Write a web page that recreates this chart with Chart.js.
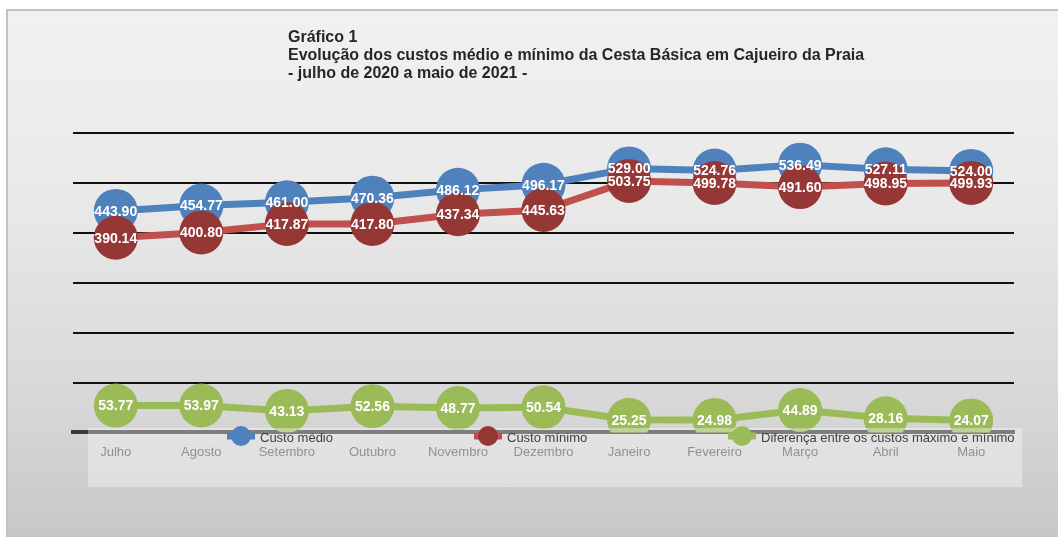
<!DOCTYPE html>
<html>
<head>
<meta charset="utf-8">
<script src="https://cdn.jsdelivr.net/npm/chart.js@4/dist/chart.umd.min.js"></script>
<style>
  html, body { margin: 0; padding: 0; background: #fff; }
  body { width: 1058px; height: 537px; position: relative; overflow: hidden; }
  .painel {
    position: absolute; left: 6px; top: 9px; width: 1060px; height: 540px;
    border-top: 2px solid #c2c2c2; border-left: 2px solid #c2c2c2;
    background: linear-gradient(to bottom, #f1f1f1 0%, #e9e9e9 35%, #d6d6d6 75%, #c6c6c6 100%);
  }
  .grafico { position: absolute; left: 0; top: 0; width: 1058px; height: 537px; }
</style>
</head>
<body>
<div class="painel"></div>
<div class="grafico"><canvas id="cesta"></canvas></div>
<script>
// --- dados ---
const meses = ['Julho', 'Agosto', 'Setembro', 'Outubro', 'Novembro', 'Dezembro',
               'Janeiro', 'Fevereiro', 'Março', 'Abril', 'Maio'];
const custoMedio  = [443.90, 454.77, 461.00, 470.36, 486.12, 496.17, 529.00, 524.76, 536.49, 527.11, 524.00];
const custoMinimo = [390.14, 400.80, 417.87, 417.80, 437.34, 445.63, 503.75, 499.78, 491.60, 498.95, 499.93];
const diferenca   = [53.77, 53.97, 43.13, 52.56, 48.77, 50.54, 25.25, 24.98, 44.89, 28.16, 24.07];
const nomesSeries = ['Custo médio', 'Custo mínimo', 'Diferença entre os custos máximo e mínimo'];
const tituloLinhas = ['Gráfico 1',
  'Evolução dos custos médio e mínimo da Cesta Básica em Cajueiro da Praia',
  '- julho de 2020 a maio de 2021 -'];

// cores (paleta Office)
const cor = {
  azul: '#4f81bd',
  vermelhoLinha: '#c0504d',
  vermelhoPonto: '#953735',
  verde: '#9bbb59'
};

// plugin: caixa translúcida da legenda, rótulos de dados, legenda e título
const extras = {
  id: 'extras',
  afterDatasetsDraw(chart) {
    const ctx = chart.ctx;
    ctx.save();

    // caixa da legenda (translúcida, por cima da série verde)
    ctx.fillStyle = 'rgba(255,255,255,0.35)';
    ctx.fillRect(88, 428, 934, 59);

    // rótulos de dados
    ctx.font = 'bold 14px "Liberation Sans", Arial, sans-serif';
    ctx.fillStyle = '#fff';
    ctx.textAlign = 'center';
    ctx.textBaseline = 'middle';
    chart.data.datasets.forEach((ds, i) => {
      chart.getDatasetMeta(i).data.forEach((pt, j) => {
        ctx.fillText(ds.data[j].toFixed(2), pt.x, pt.y + 1);
      });
    });

    // legenda
    const itens = [
      { x: 241, linha: cor.azul, ponto: cor.azul, texto: nomesSeries[0] },
      { x: 488, linha: cor.vermelhoLinha, ponto: cor.vermelhoPonto, texto: nomesSeries[1] },
      { x: 742, linha: cor.verde, ponto: cor.verde, texto: nomesSeries[2] }
    ];
    itens.forEach(it => {
      ctx.strokeStyle = it.linha;
      ctx.lineWidth = 7;
      ctx.beginPath();
      ctx.moveTo(it.x - 14, 436);
      ctx.lineTo(it.x + 14, 436);
      ctx.stroke();
      ctx.fillStyle = it.ponto;
      ctx.beginPath();
      ctx.arc(it.x, 436, 10, 0, Math.PI * 2);
      ctx.fill();
      ctx.fillStyle = '#404040';
      ctx.font = '13px "Liberation Sans", Arial, sans-serif';
      ctx.textAlign = 'left';
      ctx.fillText(it.texto, it.x + 19, 438);
    });

    // título
    ctx.fillStyle = '#262626';
    ctx.font = 'bold 16px "Liberation Sans", Arial, sans-serif';
    tituloLinhas.forEach((t, k) => ctx.fillText(t, 288, 38 + k * 18));

    ctx.restore();
  }
};

const linhaBase = { borderWidth: 7, pointRadius: 22, pointBorderWidth: 0, pointHoverRadius: 22, tension: 0 };

new Chart(document.getElementById('cesta'), {
  type: 'line',
  data: {
    labels: meses,
    datasets: [
      { ...linhaBase, label: nomesSeries[0], data: custoMedio, order: 1,
        borderColor: cor.azul, pointBackgroundColor: cor.azul },
      { ...linhaBase, label: nomesSeries[1], data: custoMinimo, order: 0,
        borderColor: cor.vermelhoLinha, pointBackgroundColor: cor.vermelhoPonto },
      { ...linhaBase, label: nomesSeries[2], data: diferenca, order: 0,
        borderColor: cor.verde, pointBackgroundColor: cor.verde }
    ]
  },
  options: {
    responsive: true,
    maintainAspectRatio: false,
    animation: false,
    events: [],
    layout: { padding: { left: 73, right: 44, top: 133, bottom: 73 } },
    plugins: { legend: { display: false }, title: { display: false }, tooltip: { enabled: false } },
    scales: {
      x: {
        offset: true,
        grid: { display: false },
        border: { color: '#3a3a3a', width: 4 },
        ticks: { color: '#555', padding: 4, font: { family: '"Liberation Sans", Arial, sans-serif', size: 13 } }
      },
      y: {
        min: 0, max: 600,
        ticks: { display: false, stepSize: 100 },
        border: { display: false },
        grid: { color: '#111', lineWidth: 2, drawTicks: false }
      }
    }
  },
  plugins: [extras]
});
</script>
</body>
</html>
